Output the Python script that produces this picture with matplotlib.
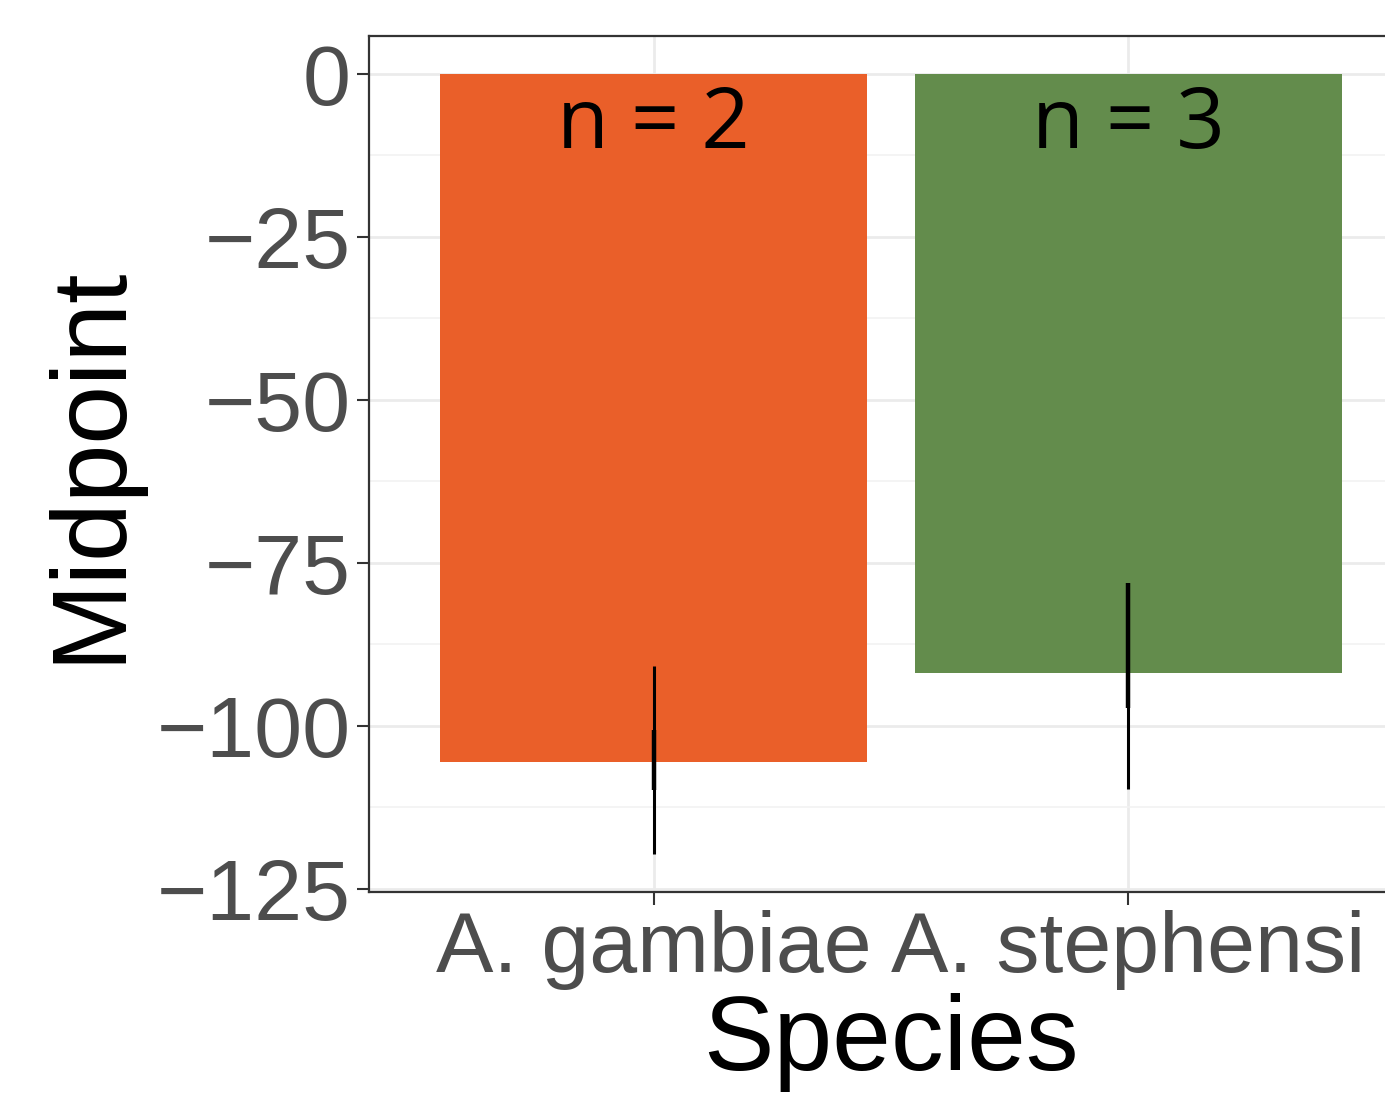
import matplotlib
matplotlib.use("Agg")
import matplotlib.pyplot as plt
import numpy as np

species = ["A. gambiae", "A. stephensi"]
midpoint = [-105.5, -91.9]
bar_colors = ["#EA5F29", "#638C4C"]
n_labels = ["n = 2", "n = 3"]
# outer (thin) and inner (thick) error ranges
err_outer_lo = [-119.7, -109.7]
err_outer_hi = [-90.8, -78.1]
err_inner_lo = [-109.8, -97.2]
err_inner_hi = [-100.6, -78.1]
yticks = [0, -25, -50, -75, -100, -125]

fig = plt.figure(figsize=(13.85, 10.93), dpi=100)
ax = fig.add_axes([0.2664, 0.1839, 0.7538, 0.7831])

x = np.arange(1, len(species) + 1)
ax.bar(x, midpoint, width=0.9, color=bar_colors, zorder=2)
ax.vlines(x, err_outer_lo, err_outer_hi, color="black", linewidth=2.2, zorder=3)
ax.vlines(x, err_inner_lo, err_inner_hi, color="black", linewidth=3.2, zorder=3)

for xi, lab in zip(x, n_labels):
    ax.text(xi, -8.0, lab, ha="center", va="center", fontsize=61,
            family=["Open Sans", "DejaVu Sans"], color="black", zorder=4)

ax.set_xlim(0.4, 2.6)
ax.set_ylim(-125.5, 5.8)
ax.set_xticks(x)
ax.set_xticklabels(species)
ax.set_yticks(yticks)
ax.set_yticklabels([str(v).replace("-", "\u2212") for v in yticks])
ax.set_yticks(np.arange(-112.5, 0, 25), minor=True)

ax.grid(True, which="major", color="#EBEBEB", linewidth=2.0, zorder=0)
ax.grid(True, which="minor", axis="y", color="#F2F2F2", linewidth=1.2, zorder=0)
ax.set_axisbelow(True)
ax.tick_params(axis="y", which="minor", length=0)
ax.tick_params(which="major", length=9, width=1.5, color="#333333",
               labelsize=62, labelcolor="#4D4D4D", pad=4)
for s in ax.spines.values():
    s.set_color("#333333")
    s.set_linewidth(1.6)

ax.set_xlabel("Species", fontsize=76, family="Liberation Sans", labelpad=2)
ax.set_ylabel("Midpoint", fontsize=76, family="Liberation Sans", labelpad=12)
for lab in ax.get_xticklabels() + ax.get_yticklabels():
    lab.set_family("Liberation Sans")

fig.savefig("out.png", dpi=100)
